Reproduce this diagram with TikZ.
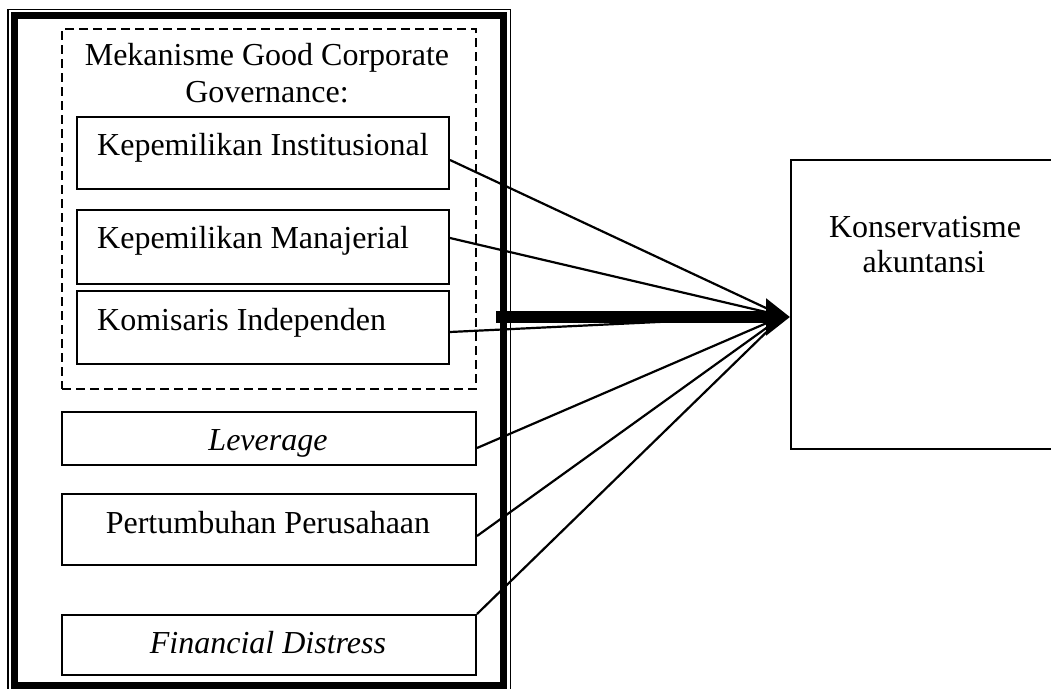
\documentclass[tikz,border=0pt]{standalone}
\usepackage{fontspec}
\setmainfont{Liberation Serif}
\usetikzlibrary{arrows.meta,calc}
\begin{document}
\begin{tikzpicture}[x=1pt,y=-1pt,
  box/.style={draw,line width=2pt,rectangle,inner sep=0pt,anchor=north west},
  txt/.style={inner sep=0pt,font=\fontsize{32}{37}\selectfont},
  link/.style={line width=2.2pt},
  dashbox/.style={draw,line width=2.2pt,dash pattern=on 9pt off 5pt,rectangle,inner sep=0pt,anchor=north west}]
\clip (0,0) rectangle (1051,688);
% outer frame
\draw[line width=1.8pt] (8,9.5) rectangle (510.5,693);
\draw[line width=7pt] (14.5,15.5) rectangle (503.5,685);
% dashed group
\node[dashbox,minimum width=414pt,minimum height=360pt] (grp) at (61,28) {};
\node[txt,anchor=base] (title1) at (267,65) {Mekanisme Good Corporate};
\node[txt,anchor=base] (title2) at (267,102) {Governance:};
% inner boxes
\node[box,minimum width=372pt,minimum height=72pt] (b1) at (76,116) {};
\node[txt,anchor=base west] (t1) at (97,155) {Kepemilikan Institusional};
\node[box,minimum width=372pt,minimum height=74pt] (b2) at (76,209) {};
\node[txt,anchor=base west] (t2) at (97,248) {Kepemilikan Manajerial};
\node[box,minimum width=372pt,minimum height=73pt] (b3) at (76,290) {};
\node[txt,anchor=base west] (t3) at (97,330) {Komisaris Independen};
% other boxes
\node[box,minimum width=414pt,minimum height=53pt] (lev) at (61,411) {};
\node[txt,anchor=base] (tl) at (268,450) {\itshape Leverage};
\node[box,minimum width=414pt,minimum height=71pt] (pert) at (61,493) {};
\node[txt,anchor=base] (tp) at (268,533) {Pertumbuhan Perusahaan};
\node[box,minimum width=414pt,minimum height=60pt] (fin) at (61,614) {};
\node[txt,anchor=base] (tf) at (268,653) {\itshape Financial Distress};
% dependent
\node[box,minimum width=280pt,minimum height=289pt] (kons) at (790,159) {};
\node[txt,anchor=base] (k1) at (925,237) {Konservatisme};
\node[txt,anchor=base] (k2) at (924,272) {akuntansi};
% connectors
\coordinate (conv) at (783,316);
\coordinate (thickstart) at (496,317);
\draw[link] ([yshift=-7pt]b1.east) -- (conv);
\draw[link] ([yshift=9pt]b2.east) -- (conv);
\draw[link] ([yshift=-4.5pt]b3.east) -- (conv);
\draw[link] ([yshift=-9.5pt]lev.east) -- (conv);
\draw[link] ([yshift=-6.5pt]pert.east) -- (conv);
\draw[link] (fin.north east) -- (conv);
\draw[line width=12pt,-{Triangle[length=24pt,width=36pt]}] (thickstart) -- (kons.west |- thickstart);
\end{tikzpicture}
\end{document}
